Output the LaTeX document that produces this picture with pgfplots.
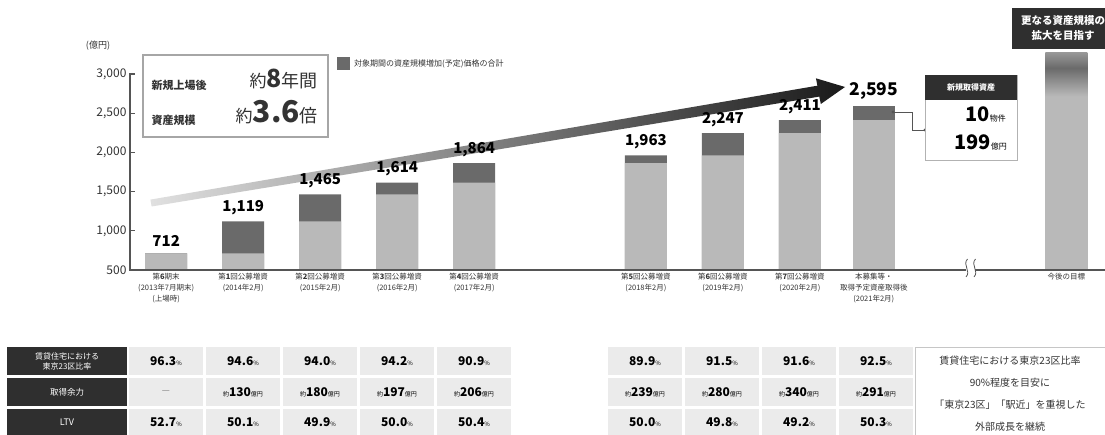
\documentclass[border=0pt]{standalone}
\usepackage{pgfplots}
\pgfplotsset{compat=1.18}
\usepackage{pgfplotstable}
\usepackage{fontspec}
\setmainfont{Noto Sans CJK JP}

\definecolor{barlight}{HTML}{B9B9B9}
\definecolor{bardark}{HTML}{6A6A6A}
\definecolor{axisgray}{HTML}{555555}
\definecolor{cellgray}{HTML}{EBEBEB}
\definecolor{headdark}{HTML}{2F2F2F}
\definecolor{textgray}{HTML}{333333}

% future bar: the bar box maps to 25bp..75bp
\pgfdeclareverticalshading{futurebar}{100bp}{%
  color(0bp)=(barlight); color(25bp)=(barlight); color(65bp)=(barlight);
  color(71.5bp)=(bardark); color(75bp)=(bardark!70!white); color(100bp)=(bardark!70!white)}

\newcommand{\fs}[1]{\fontsize{#1}{#1}\selectfont}

% total = value after each offering, base = value before it
\pgfplotstableread{
x     total  base
0     712    712
1     1119   712
2     1465   1119
3     1614   1465
4     1864   1614
6.23  1963   1864
7.23  2247   1963
8.23  2411   2247
}\bars

\pgfplotstableread{
x     total  base
9.19  2595   2411
}\latest

\begin{document}
\begin{tikzpicture}
\useasboundingbox (0,0) rectangle (1105pt,-435pt);

% growth arrow (above the bars, under the value labels)
\begin{scope}[x=1pt,y=-1pt]
\shade[left color=black!12, right color=black!90]
  (151.6,206.5) -- (819.3,96.6) -- (820.8,104.0) -- (845,87)
  -- (815.9,78.3) -- (817.4,85.7) -- (150.4,199.6) -- cycle;
\end{scope}

\begin{axis}[
  at={(130pt,-270pt)}, anchor=south west,
  x=77pt, y=0.0784pt,
  xmin=-0.47, xmax=12.2, ymin=500, ymax=3300,
  axis line style={draw=none},
  ytick={500,1000,...,3000},
  ytick pos=left,
  tick align=inside,
  major tick length=5pt,
  ytick style={axisgray, line width=1.2pt},
  yticklabel style={font=\fs{12}, text=textgray},
  xtick={0,1,2,3,4,6.23,7.23,8.23,9.19,11.69},
  xtick pos=bottom,
  xtick style={draw=none},
  xticklabel style={font=\fontsize{7.5}{11}\selectfont, align=center, text=textgray},
  xticklabels={
    {第\textbf{6}期末\\(2013年7月期末)\\(上場時)},
    {第\textbf{1}回公募増資\\(2014年2月)},
    {第\textbf{2}回公募増資\\(2015年2月)},
    {第\textbf{3}回公募増資\\(2016年2月)},
    {第\textbf{4}回公募増資\\(2017年2月)},
    {第\textbf{5}回公募増資\\(2018年2月)},
    {第\textbf{6}回公募増資\\(2019年2月)},
    {第\textbf{7}回公募増資\\(2020年2月)},
    {本募集等・\\取得予定資産取得後\\(2021年2月)},
    {今後の目標}},
  /pgf/number format/.cd, assume math mode=true, 1000 sep={,},
]
\addplot[ybar, bar width=42pt, bar shift=0pt, fill=bardark, draw=none,
  nodes near coords, nodes near coords style={font=\bfseries\fs{15}, text=black, yshift=3pt}]
  table[x=x, y=total] {\bars};
\addplot[ybar, bar width=42pt, bar shift=0pt, fill=barlight, draw=none]
  table[x=x, y=base] {\bars};
\addplot[ybar, bar width=42pt, bar shift=0pt, fill=bardark, draw=none,
  nodes near coords, nodes near coords style={font=\bfseries\fs{17.5}, text=black, yshift=3pt}]
  table[x=x, y=total] {\latest};
\addplot[ybar, bar width=42pt, bar shift=0pt, fill=barlight, draw=none]
  table[x=x, y=base] {\latest};
\addplot[ybar, bar width=42pt, bar shift=0pt, draw=none, shade, shading=futurebar]
  coordinates {(11.69,3270)};
\end{axis}

\begin{scope}[x=1pt,y=-1pt]
% axes
\draw[axisgray, line width=2pt] (130,271) -- (130,73);
\draw[axisgray, line width=2.5pt] (129,270) -- (1105,270);
\fill[white] (966,264) rectangle (975,276);
\draw[axisgray, line width=0.8pt] (967.5,259) .. controls (962,265) and (971.5,271) .. (966,277);
\draw[axisgray, line width=0.8pt] (975.5,259) .. controls (970,265) and (979.5,271) .. (974,277);
\node[font=\fs{9}, text=textgray] at (98,46) {(億円)};

% legend
\fill[bardark] (337,57) rectangle (350,70);
\node[anchor=west, font=\fs{8}, text=textgray, inner sep=0pt] at (354,63.5) {対象期間の資産規模増加(予定)価格の合計};

% summary box
\draw[gray!70, line width=1.2pt, fill=white] (143,55) rectangle (328,137);
\node[anchor=west, font=\bfseries\fs{11}, text=textgray] at (148,85) {新規上場後};
\node[anchor=west, font=\bfseries\fs{11}, text=textgray] at (148,120) {資産規模};
\node[anchor=base east, inner sep=0pt, text=textgray] at (318,88) {{\fs{17}約}{\bfseries\fs{25}8}{\fs{18}年間}};
\node[anchor=base east, inner sep=0pt, text=textgray] at (318,123) {{\fs{17}約}{\bfseries\fs{30}3.6}{\fs{18}倍}};

% new acquisitions box
\draw[axisgray, line width=0.8pt] (893,112) -- (912,112) -- (912,130) -- (925,130);
\fill[axisgray] (893,112) circle (1.6) (925,130) circle (1.6);
\draw[gray!60, line width=0.8pt, fill=white] (925,75) rectangle (1017,160);
\fill[headdark] (925,75) rectangle (1017,100);
\node[font=\bfseries\fs{8}, text=white] at (971,87.5) {新規取得資産};
\node[anchor=base east, inner sep=0pt, text=black] at (1006,122) {{\bfseries\fs{20}10}{\fs{8}物件}};
\node[anchor=base east, inner sep=0pt, text=black] at (1007,150) {{\bfseries\fs{20}199}{\fs{8}億円}};

% future target box
\fill[headdark] (1012,8) rectangle (1115,49);
\node[font=\bfseries\fontsize{10.5}{15}\selectfont, text=white, align=center] at (1063,28.5) {更なる資産規模の\\拡大を目指す};

% table
\foreach \r/\ya/\yb in {1/347/375, 2/378/406, 3/409/437}{
  \fill[headdark] (7,\ya) rectangle (127,\yb);
}
\node[font=\fontsize{8}{10}\selectfont, text=white, align=center] at (67,361) {賃貸住宅における\\東京23区比率};
\node[font=\fs{8.5}, text=white] at (67,392) {取得余力};
\node[font=\fs{9}, text=white] at (67,422) {LTV};
\foreach \c/\p/\l in {166/96.3/52.7, 243/94.6/50.1, 320/94.0/49.9, 397/94.2/50.0, 474/90.9/50.4,
                      645/89.9/50.0, 722/91.5/49.8, 799/91.6/49.2, 876/92.5/50.3}{
  \fill[cellgray] ({\c-37},347) rectangle ({\c+37},375);
  \fill[cellgray] ({\c-37},378) rectangle ({\c+37},406);
  \fill[cellgray] ({\c-37},409) rectangle ({\c+37},437);
  \node[text=black] at (\c,361) {{\bfseries\fs{12}\p}{\fs{6}\%}};
  \node[text=black] at (\c,422) {{\bfseries\fs{12}\l}{\fs{6}\%}};
}
\foreach \c/\v in {243/130, 320/180, 397/197, 474/206, 645/239, 722/280, 799/340, 876/291}{
  \node[text=black] at (\c,392) {{\fs{6}約}{\bfseries\fs{12}\v}{\fs{6}億円}};
}
\node[text=gray, font=\fs{9}] at (166,392) {—};
\draw[gray!45, line width=0.8pt, fill=white] (915,347) rectangle (1115,440);
\node[font=\fontsize{10}{22}\selectfont, text=textgray, align=center] at (1010,394) {賃貸住宅における東京23区比率\\90\%程度を目安に\\「東京23区」「駅近」を重視した\\外部成長を継続};
\end{scope}
\end{tikzpicture}
\end{document}
